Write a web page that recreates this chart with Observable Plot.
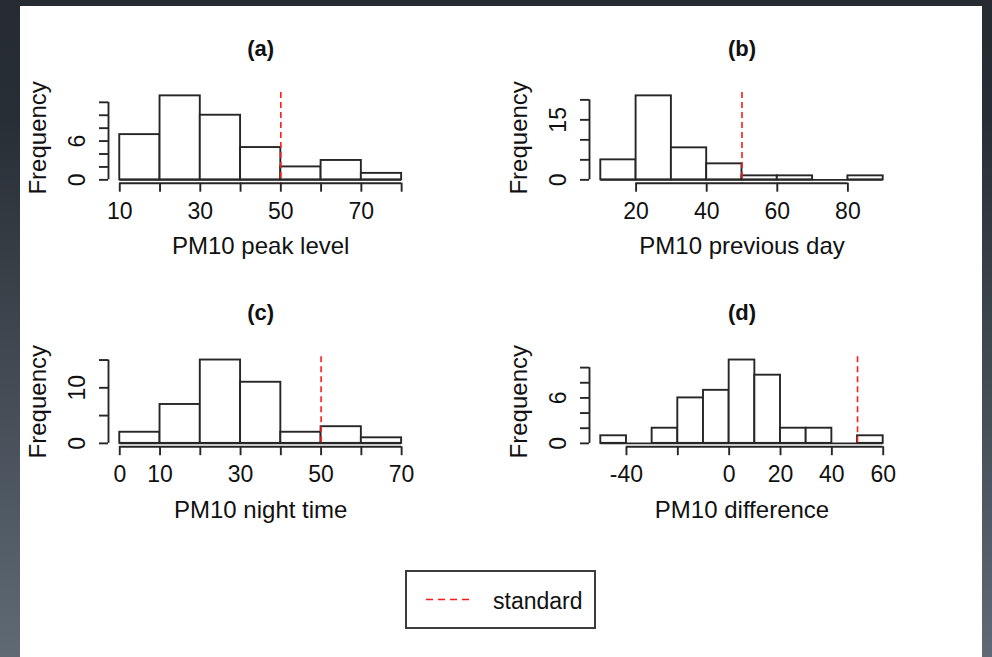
<!DOCTYPE html>
<html><head><meta charset="utf-8">
<script src="https://cdn.jsdelivr.net/npm/d3@7"></script>
<script src="https://cdn.jsdelivr.net/npm/@observablehq/plot@0.6"></script>
<style>
html,body{margin:0;padding:0;}
body{width:992px;height:657px;overflow:hidden;background:linear-gradient(180deg,#262b32 0px,#282e35 120px,#5f6a75 657px);font-family:"Liberation Sans",Arial,sans-serif;}
#root{position:relative;width:992px;height:657px;}
#panel{position:absolute;left:20px;top:6px;width:962px;height:651px;background:#fff;}
.cell{position:absolute;}
#legend{position:absolute;left:405px;top:570px;width:187px;height:55px;border:2px solid #3c3c3c;background:#fff;}
</style></head><body>
<div id="root"><div id="panel"></div></div>
<script>
// ---- data ----
const standard = 50;
const yLabelText = "Frequency";

const peakTitle = "(a)";
const peakXLabel = "PM10 peak level";
const peakBreaks = [10, 20, 30, 40, 50, 60, 70, 80];
const peakCounts = [7, 13, 10, 5, 2, 3, 1];
const peakXTicks = [10, 20, 30, 40, 50, 60, 70, 80];
const peakXTickLabels = [10, 30, 50, 70];
const peakYTicks = [0, 2, 4, 6, 8, 10, 12];
const peakYTickLabels = [0, 6];

const prevTitle = "(b)";
const prevXLabel = "PM10 previous day";
const prevBreaks = [10, 20, 30, 40, 50, 60, 70, 80, 90];
const prevCounts = [5, 21, 8, 4, 1, 1, 0, 1];
const prevXTicks = [20, 40, 60, 80];
const prevXTickLabels = [20, 40, 60, 80];
const prevYTicks = [0, 5, 10, 15, 20];
const prevYTickLabels = [0, 15];

const nightTitle = "(c)";
const nightXLabel = "PM10 night time";
const nightBreaks = [0, 10, 20, 30, 40, 50, 60, 70];
const nightCounts = [2, 7, 15, 11, 2, 3, 1];
const nightXTicks = [0, 10, 20, 30, 40, 50, 60, 70];
const nightXTickLabels = [0, 10, 30, 50, 70];
const nightYTicks = [0, 5, 10, 15];
const nightYTickLabels = [0, 10];

const diffTitle = "(d)";
const diffXLabel = "PM10 difference";
const diffBreaks = [-50, -40, -30, -20, -10, 0, 10, 20, 30, 40, 50, 60];
const diffCounts = [1, 0, 2, 6, 7, 11, 9, 2, 2, 0, 1];
const diffXTicks = [-40, -20, 0, 20, 40, 60];
const diffXTickLabels = [-40, 0, 20, 40, 60];
const diffYTicks = [0, 2, 4, 6, 8, 10];
const diffYTickLabels = [0, 6];

const legendLabel = "standard";

// ---- drawing ----
const FONT = '"Liberation Sans", Arial, sans-serif';
const LINE = "#262626";
const LW = 1.9;

function usr(lo, hi) { const p = (hi - lo) * 0.04; return [lo - p, hi + p]; }

function hist(cfg) {
  const {breaks, counts, xTicks, xTickLabels, yTicks, yTickLabels, title, xlabel, box, frame} = cfg;
  const bins = counts.map((c, i) => ({x1: breaks[i], x2: breaks[i + 1], count: c}));
  const xU = usr(breaks[0], breaks[breaks.length - 1]);
  const yU = usr(0, d3.max(counts));
  const centered = {textAnchor: "middle", lineAnchor: "middle"};
  const plot = Plot.plot({
    width: box.w, height: box.h,
    marginLeft: frame.l - box.x,
    marginRight: box.x + box.w - frame.r,
    marginTop: frame.t - box.y,
    marginBottom: box.y + box.h - frame.b,
    x: {domain: xU},
    y: {domain: yU},
    style: {fontFamily: FONT, fontSize: "23px", background: "transparent", color: "#111", overflow: "visible"},
    marks: [
      Plot.rect(bins, {x1: "x1", x2: "x2", y1: 0, y2: "count", fill: "white", stroke: LINE, strokeWidth: LW}),
      Plot.ruleY([0], {x1: breaks[0], x2: breaks[breaks.length - 1], stroke: LINE, strokeWidth: LW}),
      Plot.ruleX([standard], {stroke: "#ff1a1a", strokeDasharray: "6,4", strokeWidth: 1.6}),
      Plot.axisX({ticks: xTicks, tickSize: 9, tickFormat: () => "", label: null, stroke: LINE, strokeWidth: LW}),
      Plot.ruleY([yU[0]], {x1: xTicks[0], x2: xTicks[xTicks.length - 1], stroke: LINE, strokeWidth: LW}),
      Plot.axisY({ticks: yTicks, tickSize: 9, tickFormat: () => "", label: null, stroke: LINE, strokeWidth: LW}),
      Plot.ruleX([xU[0]], {y1: yTicks[0], y2: yTicks[yTicks.length - 1], stroke: LINE, strokeWidth: LW}),
      Plot.text(xTickLabels, {x: d => d, text: d => String(d), frameAnchor: "bottom", dy: 28.4, ...centered}),
      Plot.text(yTickLabels, {y: d => d, text: d => String(d), frameAnchor: "left", rotate: -90, dx: -30.5, ...centered}),
      Plot.text([xlabel], {frameAnchor: "bottom", dy: 63.5, fontSize: 24, ...centered}),
      Plot.text([yLabelText], {frameAnchor: "left", rotate: -90, dx: -70.5, fontSize: 24, ...centered}),
      Plot.text([title], {frameAnchor: "top", dy: -44, fontWeight: "bold", fontSize: 22, ...centered})
    ]
  });
  plot.classList.add("cell");
  plot.style.left = box.x + "px";
  plot.style.top = box.y + "px";
  document.getElementById("root").appendChild(plot);
}

const leftFrame = {l: 108, r: 412.4};
const rightFrame = {l: 589, r: 894};
const topRow = {t: 92, b: 182.7};
const botRow = {t: 356.2, b: 446.2};

hist({breaks: peakBreaks, counts: peakCounts, xTicks: peakXTicks, xTickLabels: peakXTickLabels,
  yTicks: peakYTicks, yTickLabels: peakYTickLabels, title: peakTitle, xlabel: peakXLabel,
  box: {x: 20, y: 6, w: 470, h: 264}, frame: {...leftFrame, ...topRow}});
hist({breaks: prevBreaks, counts: prevCounts, xTicks: prevXTicks, xTickLabels: prevXTickLabels,
  yTicks: prevYTicks, yTickLabels: prevYTickLabels, title: prevTitle, xlabel: prevXLabel,
  box: {x: 490, y: 6, w: 492, h: 264}, frame: {...rightFrame, ...topRow}});
hist({breaks: nightBreaks, counts: nightCounts, xTicks: nightXTicks, xTickLabels: nightXTickLabels,
  yTicks: nightYTicks, yTickLabels: nightYTickLabels, title: nightTitle, xlabel: nightXLabel,
  box: {x: 20, y: 270, w: 470, h: 290}, frame: {...leftFrame, ...botRow}});
hist({breaks: diffBreaks, counts: diffCounts, xTicks: diffXTicks, xTickLabels: diffXTickLabels,
  yTicks: diffYTicks, yTickLabels: diffYTickLabels, title: diffTitle, xlabel: diffXLabel,
  box: {x: 490, y: 270, w: 492, h: 290}, frame: {...rightFrame, ...botRow}});

// legend
const lg = document.createElement("div");
lg.id = "legend";
lg.innerHTML = `<svg width="187" height="55" style="display:block">
  <line x1="19" x2="63" y1="27.5" y2="27.5" stroke="#ff1a1a" stroke-width="1.6" stroke-dasharray="7,5"></line>
  <text x="86" y="37" font-family='Liberation Sans, Arial, sans-serif' font-size="23" fill="#111">${legendLabel}</text>
</svg>`;
document.getElementById("root").appendChild(lg);
</script>
</body></html>
